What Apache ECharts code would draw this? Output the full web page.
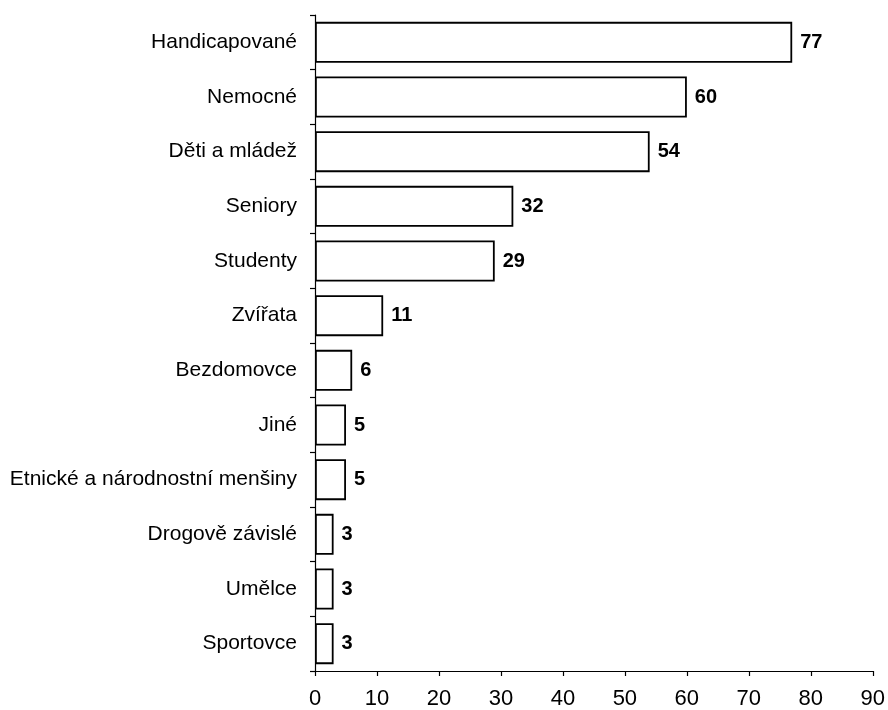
<!DOCTYPE html>
<html>
<head>
<meta charset="utf-8">
<script src="https://cdn.jsdelivr.net/npm/echarts@6/dist/echarts.min.js"></script>
<style>
  html, body { margin: 0; padding: 0; background: #fff; }
  #chart { width: 888px; height: 710px; }
</style>
</head>
<body>
<div id="chart"></div>
<script>
// Target groups, top to bottom
const categories = [
  'Handicapované', 'Nemocné', 'Děti a mládež', 'Seniory', 'Studenty', 'Zvířata',
  'Bezdomovce', 'Jiné', 'Etnické a národnostní menšiny', 'Drogově závislé', 'Umělce', 'Sportovce'
];
const values = [77, 60, 54, 32, 29, 11, 6, 5, 5, 3, 3, 3];
const xTicks = { min: 0, max: 90, interval: 10 };

const FONT = '"Liberation Sans", Arial, Helvetica, sans-serif';

const chart = echarts.init(document.getElementById('chart'), null, { renderer: 'canvas' });
chart.setOption({
  backgroundColor: '#ffffff',
  animation: false,
  grid: { left: 315, right: 13, top: 15, bottom: 38, containLabel: false },
  xAxis: {
    type: 'value',
    min: xTicks.min,
    max: xTicks.max,
    interval: xTicks.interval,
    splitLine: { show: false },
    axisLine: { show: true, lineStyle: { color: '#000', width: 1.2 } },
    axisTick: { show: true, inside: false, length: 5, lineStyle: { color: '#000', width: 1.2 } },
    axisLabel: { color: '#000', fontFamily: FONT, fontSize: 22, margin: 17 }
  },
  yAxis: {
    type: 'category',
    data: categories,
    inverse: true,
    axisLine: { show: true, lineStyle: { color: '#000', width: 1.2 } },
    axisTick: { show: true, inside: false, alignWithLabel: false, length: 5, lineStyle: { color: '#000', width: 1.2 } },
    axisLabel: { color: '#000', fontFamily: FONT, fontSize: 21, margin: 18 }
  },
  series: [{
    type: 'bar',
    data: values,
    barCategoryGap: '25%',
    itemStyle: { color: '#ffffff', borderColor: '#000', borderWidth: 1.8 },
    label: {
      show: true,
      position: 'right',
      distance: 8,
      color: '#000',
      fontFamily: FONT,
      fontWeight: 'bold',
      fontSize: 20
    }
  }]
});
</script>
</body>
</html>
